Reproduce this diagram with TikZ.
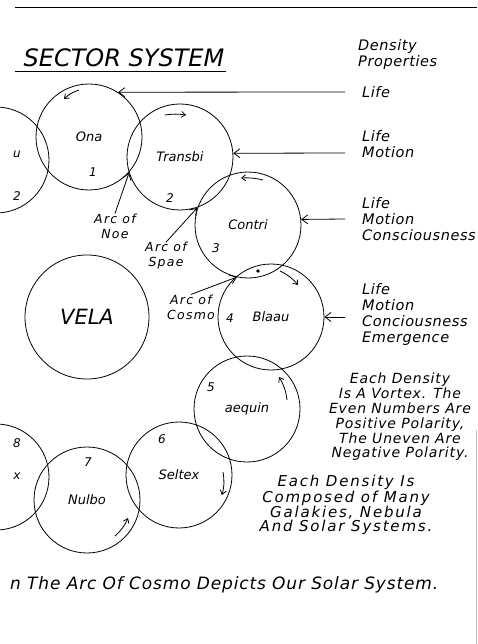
\documentclass[tikz,border=0pt]{standalone}
\usepackage{fontspec}
\setmainfont{DejaVu Sans}
\usetikzlibrary{arrows.meta,positioning}

\begin{document}
\begin{tikzpicture}[x=1pt, y=1pt,
    density/.style={circle, draw, line width=0.8pt, minimum size=106pt, inner sep=0pt,
      font=\fontsize{13}{15}\selectfont\itshape},
    hand/.style={anchor=west, align=left, inner sep=0pt,
      font=\fontsize{14.5}{16}\selectfont\itshape\addfontfeatures{LetterSpace=4}},
    para/.style={align=center, inner sep=0pt,
      font=\fontsize{14}{14.8}\selectfont\itshape\addfontfeatures{LetterSpace=6}},
    arclab/.style={align=center, inner sep=0pt,
      font=\fontsize{12.5}{15}\selectfont\itshape\addfontfeatures{LetterSpace=10}},
    num/.style={inner sep=0pt, font=\fontsize{12}{12}\selectfont\itshape},
    barb/.style={-{Straight Barb[length=6pt, width=9pt]}, line width=0.8pt},
    spin/.style={-{Straight Barb[length=4pt, width=6pt]}, line width=0.8pt}]
    \useasboundingbox (0,0) rectangle (477,-644);
    \clip (0,0) rectangle (477,-644);
    % page edges
    \draw [line width=0.9pt] (15,-7) -- (477,-7);
    \draw [gray!50, line width=0.6pt] (476,-430) -- (476,-644);
    % title
    \node(title) at (124,-58) [font=\fontsize{24}{24}\selectfont\itshape] {SECTOR SYSTEM};
    \draw [line width=0.9pt] (15,-71) -- (226,-71);
    % densities
    \node(prevA) at (-4,-160) [density] {};
    \node(prevB) at (-4,-477) [density] {};
    \node(ona) at (89,-137) [density] {Ona};
    \node(transbi) at (180,-157) [density] {Transbi};
    \node(contri) at (248,-225) [density] {Contri};
    \node(blaau) at (271,-317) [density] {Blaau};
    \node(aequin) at (247,-409) [density] {aequin};
    \node(seltex) at (179,-475) [density] {Seltex};
    \node(nulbo) at (87,-500) [density] {Nulbo};
    \node(vela) at (87,-317) [density, minimum size=124pt,
      font=\fontsize{21}{21}\selectfont\itshape] {VELA};
    % numbers
    \node(nA) at (93,-172) [num] {1};
    \node(nB) at (170,-198) [num] {2};
    \node(nC) at (216,-248) [num] {3};
    \node(nD) at (230,-318) [num] {4};
    \node(nE) at (211,-387) [num] {5};
    \node(nF) at (162,-439) [num] {6};
    \node(nG) at (88,-462) [num] {7};
    \node(nH) at (17,-443) [num] {8};
    \node(prevAname) at (17,-154) [num] {u};
    \node(prevAnum) at (17,-196) [num] {2};
    \node(prevBname) at (17,-476) [num] {x};
    % properties
    \node(dens) at (358,-55) [hand] {Density\\Properties};
    \node(lifeA) at (362,-92) [hand] {Life};
    \node(lifeB) at (362,-144) [hand] {Life\\Motion};
    \node(lifeC) at (362,-219) [hand] {Life\\Motion\\Consciousness};
    \node(lifeD) at (362,-314) [hand] {Life\\Motion\\Conciousness\\Emergence};
    \coordinate (tailA) at (345,-92);
    \coordinate (tailB) at (345,-153);
    \coordinate (tailC) at (345,-219);
    \coordinate (tailD) at (345,-317);
    \draw [barb] (tailA) -- (ona.57);
    \draw [barb] (tailB) -- (transbi.4);
    \draw [barb] (tailC) -- (contri.6);
    \draw [barb] (tailD) -- (blaau.east);
    % arcs
    \coordinate (noeArc) at (129,-173);
    \coordinate (spaeArc) at (197,-208);
    \coordinate (cosmoArc) at (237,-277);
    \node(noe) at (115,-226) [arclab] {Arc of\\Noe};
    \node(spae) at (166,-256) [arclab] {Arc of\\Spae};
    \node(cosmo) at (191,-307) [arclab] {Arc of\\Cosmo};
    \draw [barb] (noe.north) -- (noeArc);
    \draw [barb] (spae.north) -- (spaeArc);
    \draw [barb] (cosmo.north) -- (cosmoArc);
    \node(sun) at (258,-271) [circle, fill, inner sep=1.4pt] {};
    % spin of each density
    \draw [spin] (79,-90) to[bend right=12] (64,-99);
    \draw [spin] (165,-115) to[bend left=8] (186,-115);
    \draw [spin] (263,-180) to[bend right=8] (241,-178);
    \draw [spin] (280,-271) to[bend left=12] (298,-285);
    \draw [spin] (287,-400) to[bend right=12] (279,-377);
    \draw [spin] (223,-472) to[bend left=12] (222,-495);
    \draw [spin] (115,-536) to[bend right=12] (128,-518);
    % notes
    \node(vortex) at (400,-417) [para] {Each Density\\Is A Vortex. The\\Even Numbers Are\\Positive Polarity,\\The Uneven Are\\Negative Polarity.};
    \node(compose) at (346,-505) [para, font=\fontsize{15}{14}\selectfont\itshape\addfontfeatures{LetterSpace=12}] {Each Density Is\\Composed of Many\\Galakies, Nebula\\And Solar Systems.};
    \node(cosmonote) at (10,-585) [anchor=west, inner sep=0pt,
      font=\fontsize{17}{17}\selectfont\itshape\addfontfeatures{LetterSpace=5}] {n The Arc Of Cosmo Depicts Our Solar System.};
  \end{tikzpicture}
\end{document}
